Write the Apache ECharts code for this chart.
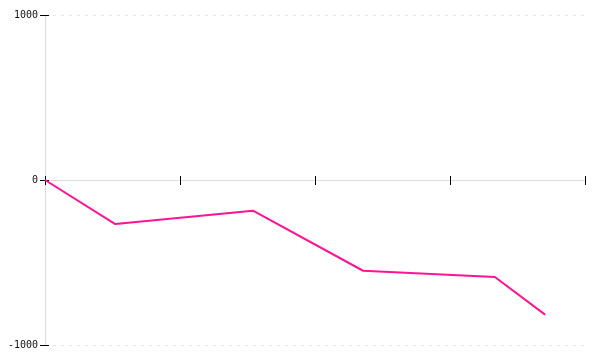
<!DOCTYPE html>
<html><head><meta charset="utf-8">
<script src="https://cdn.jsdelivr.net/npm/echarts@6/dist/echarts.min.js"></script>
<style>html,body{margin:0;padding:0;background:#fff}#c{width:600px;height:360px}</style>
</head><body><div id="c"></div>
<script>
var xValues = [0, 13, 38.5, 58.9, 83.3, 92.6];
var yValues = [0, -267, -186, -550, -588, -816];
var yTicks = [-1000, 0, 1000];

var data = xValues.map(function (x, i) { return [x, yValues[i]]; });
var chart = echarts.init(document.getElementById('c'), null, { renderer: 'canvas' });
var font = { fontFamily: 'DejaVu Sans Mono', fontSize: 10, color: '#111' };
chart.setOption({
  animation: false,
  grid: { left: 45, right: 15, top: 15, bottom: 15, containLabel: false },
  xAxis: [
    { type: 'value', min: 0, max: 100, interval: 25,
      axisLine: { show: true, onZero: true, lineStyle: { color: '#ddd', width: 1 } },
      axisTick: { show: true, inside: false, length: 5, lineStyle: { color: '#000', width: 1 } },
      axisLabel: { show: false }, splitLine: { show: false } },
    { type: 'value', min: 0, max: 100, interval: 25, position: 'bottom',
      axisLine: { show: false, onZero: true },
      axisTick: { show: true, inside: true, length: 4, lineStyle: { color: '#000', width: 1 } },
      axisLabel: { show: false }, splitLine: { show: false } }
  ],
  yAxis: [
    { type: 'value', min: yTicks[0], max: yTicks[2], interval: 1000,
      axisLine: { show: true, onZero: true, lineStyle: { color: '#ddd', width: 1 } },
      axisTick: { show: true, inside: false, length: 5, lineStyle: { color: '#000', width: 1 } },
      axisLabel: Object.assign({ margin: 7, formatter: function (v) { return String(v); } }, font),
      splitLine: { show: true, lineStyle: { color: '#e6e6e6', type: [3, 5], width: 1 } } },
    { type: 'value', min: yTicks[0], max: yTicks[2], interval: 1000, position: 'left',
      axisLine: { show: false, onZero: true },
      axisTick: { show: true, inside: true, length: 4, lineStyle: { color: '#000', width: 1 } },
      axisLabel: { show: false }, splitLine: { show: false } }
  ],
  series: [{
    type: 'line', data: data, showSymbol: false, symbol: 'none',
    lineStyle: { color: '#ff1493', width: 2 }, itemStyle: { color: '#ff1493' }
  }]
});
</script></body></html>
